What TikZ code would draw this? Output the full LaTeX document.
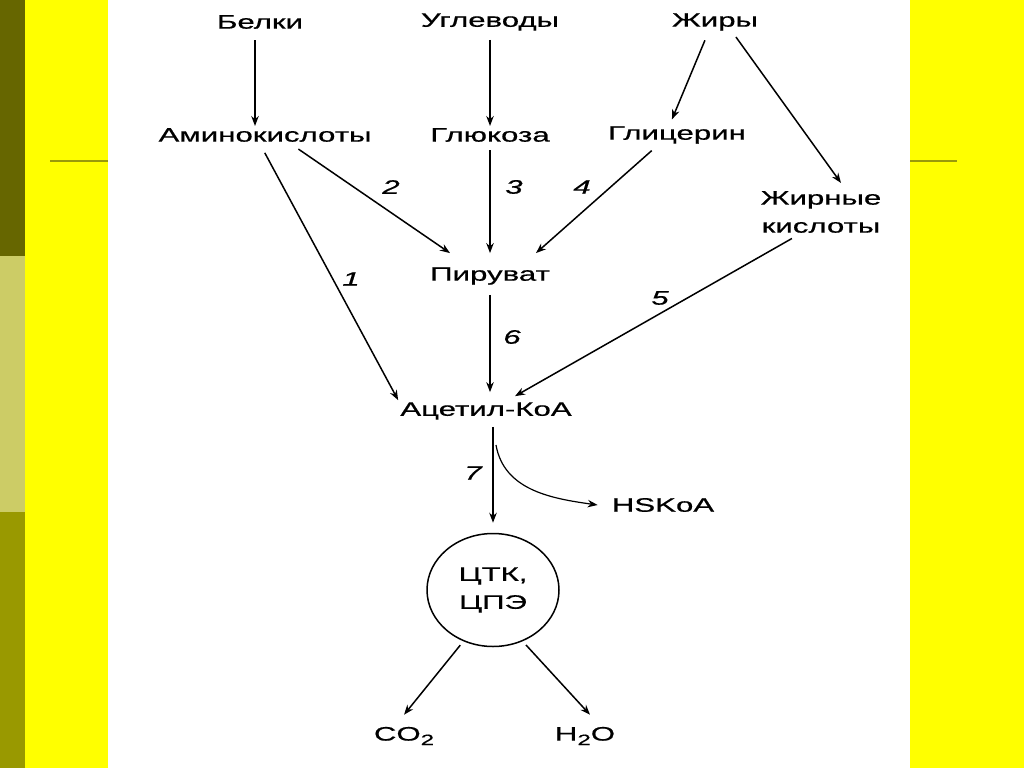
\documentclass[tikz,border=0pt]{standalone}
\usepackage{fontspec}
\setmainfont{Liberation Sans}[FakeStretch=1.6,FakeBold=0.6]
\usetikzlibrary{arrows.meta,shapes.geometric}
\definecolor{slide}{HTML}{FFFF00}
\definecolor{bandtop}{HTML}{666600}
\definecolor{bandmid}{HTML}{CCCC66}
\definecolor{bandlow}{HTML}{999900}
\definecolor{rulecol}{HTML}{99990A}
\newcommand{\subtwo}{\raisebox{-4.5pt}{\fontsize{15}{15}\selectfont 2}}

\begin{document}
\begin{tikzpicture}[x=1pt,y=-1pt,
  lbl/.style={font=\fontsize{19.5}{28}\selectfont,inner sep=2pt,align=center},
  num/.style={font=\fontsize{19.5}{24}\selectfont\itshape,inner sep=0pt},
  arr/.style={line width=1.5pt,-{Stealth[length=10pt,width=7.5pt]}}]
\useasboundingbox (0,0) rectangle (1024,768);
% slide background
\fill[slide] (0,0) rectangle (1024,768);
\fill[bandtop] (0,0) rectangle (25,256);
\fill[bandmid] (0,256) rectangle (25,512);
\fill[bandlow] (0,512) rectangle (25,768);
\fill[white] (108,0) rectangle (910,768);
\draw[rulecol,line width=2pt] (50,161) -- (108,161);
\draw[rulecol,line width=2pt] (910,161) -- (957,161);
% substances
\node[lbl] (bel) at (260,22) {Белки};
\node[lbl] (ugl) at (490,22) {Углеводы};
\node[lbl] (zhi) at (715,22) {Жиры};
\node[lbl] (ami) at (265,135) {Аминокислоты};
\node[lbl] (glu) at (490,135) {Глюкоза};
\node[lbl] (gli) at (677,135) {Глицерин};
\node[lbl] (zhk) at (821,212) {Жирные\\кислоты};
\node[lbl] (pir) at (490,276) {Пируват};
\node[lbl] (ace) at (486,411) {Ацетил-КоА};
\node[lbl] (hsk) at (663,505) {HSKoA};
\node[lbl,draw,line width=1.5pt,ellipse,minimum width=132pt,minimum height=113pt,inner sep=0pt] (ctk) at (493,590) {ЦТК,\\ЦПЭ};
\node[lbl] (co2) at (404,736) {CO\subtwo};
\node[lbl] (h2o) at (585,736) {H\subtwo O};
\coordinate (fork) at (496,445);
% step numbers
\foreach \n/\x/\y in {1/351/279,2/391/187,3/514/187,4/582/187,5/660/298,6/512/337,7/473/473}
  \node[num] (n\n) at (\x,\y) {\n};
% pathways
\draw[arr,shorten <=9pt] ([xshift=-5pt]bel.south) -- ([xshift=-10pt]ami.north);
\draw[arr,shorten <=7pt] (ugl.south) -- (glu.north);
\draw[arr,shorten <=8pt,shorten >=5pt] ([xshift=-7pt]zhi.south) -- ([xshift=-7pt]gli.north);
\draw[arr,shorten <=5pt] ([xshift=18pt]zhi.south) -- ([xshift=20pt,yshift=6pt]zhk.north);
\draw[arr,shorten <=10pt] ([xshift=-5pt]ami.south) -- (ace.north west);
\draw[arr,shorten <=9pt] ([xshift=26pt]ami.south) -- ([xshift=-40pt,yshift=12pt]pir.north);
\draw[arr,shorten <=6pt] (glu.south) -- ([yshift=12pt]pir.north);
\draw[arr,shorten <=7pt] ([xshift=-20pt]gli.south) -- ([xshift=46pt,yshift=12pt]pir.north);
\draw[arr,shorten <=7pt] ([xshift=-23pt]zhk.south) -- ([xshift=29pt,yshift=4pt]ace.north);
\draw[arr,shorten <=8pt,shorten >=8pt] (pir.south) -- (pir.south |- ace.north);
\draw[arr,shorten <=5pt,shorten >=10pt] (ace.south -| ctk.north) -- (ctk.north);
\draw[arr,line width=1.2pt] (fork) to[out=-80,in=172] ([xshift=-12pt]hsk.west);
\draw[arr,shorten <=5pt] (ctk.240) -- ([yshift=10pt]co2.north);
\draw[arr,shorten <=5pt] (ctk.300) -- ([xshift=5pt,yshift=10pt]h2o.north);
\end{tikzpicture}
\end{document}
